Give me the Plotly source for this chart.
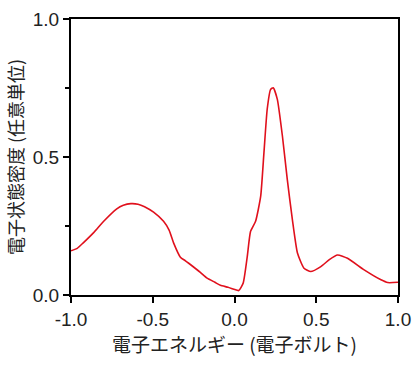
import plotly.graph_objects as go

energy = [-1.0, -0.96, -0.925, -0.86, -0.80, -0.72, -0.68, -0.634, -0.59, -0.55,
          -0.495, -0.434, -0.40, -0.372, -0.331, -0.30, -0.28, -0.209, -0.167, -0.12,
          -0.086, -0.04, -0.004, 0.026, 0.053, 0.078, 0.098, 0.129, 0.16, 0.18,
          0.20, 0.221, 0.237, 0.262, 0.293, 0.323, 0.354, 0.385, 0.425, 0.466,
          0.528, 0.58, 0.63, 0.691, 0.793, 0.896, 0.937, 1.0]
dos = [0.160, 0.170, 0.189, 0.227, 0.267, 0.312, 0.325, 0.331, 0.329, 0.320,
       0.300, 0.267, 0.235, 0.188, 0.137, 0.124, 0.115, 0.082, 0.061, 0.046,
       0.035, 0.028, 0.021, 0.016, 0.043, 0.139, 0.230, 0.267, 0.357, 0.515,
       0.673, 0.745, 0.751, 0.709, 0.576, 0.418, 0.273, 0.152, 0.097, 0.085,
       0.103, 0.128, 0.145, 0.133, 0.091, 0.055, 0.045, 0.046]

x_ticks = [-1.0, -0.5, 0.0, 0.5, 1.0]
x_ticktext = ["-1.0", "-0.5", "0.0", "0.5", "1.0"]
y_ticks = [0.0, 0.5, 1.0]
y_ticktext = ["0.0", "0.5", "1.0"]
y_minor = [0.25, 0.75]

x_title = "電子エネルギー (電子ボルト)"
y_title = "電子状態密度 (任意単位)"

font_fam = "Liberation Sans, Arial, Noto Sans CJK JP"

fig = go.Figure()
fig.add_trace(go.Scatter(x=energy, y=dos, mode="lines",
                         line=dict(color="#e0101c", width=1.6, shape="spline", smoothing=0.5),
                         showlegend=False))

fig.update_layout(
    width=420, height=368,
    margin=dict(l=71, r=22, t=19, b=73),
    paper_bgcolor="white", plot_bgcolor="white",
    font=dict(family=font_fam, color="#222222", size=18),
)
fig.update_xaxes(range=[-1.0, 1.0], tickvals=x_ticks, ticktext=x_ticktext,
                 showline=True, linecolor="black", linewidth=2, mirror=True,
                 ticks="outside", ticklen=6, tickwidth=2, tickcolor="black",
                 showgrid=False, zeroline=False, automargin=False,
                 title=dict(text=x_title, font=dict(size=19, family="Noto Sans CJK JP, Liberation Sans"), standoff=6),
                 tickfont=dict(size=19))
fig.update_yaxes(range=[0.0, 1.0], tickvals=y_ticks, ticktext=y_ticktext,
                 showline=True, linecolor="black", linewidth=2, mirror=True,
                 ticks="outside", ticklen=6, tickwidth=2, tickcolor="black",
                 minor=dict(tickvals=y_minor, ticks="outside", ticklen=4, tickwidth=2, tickcolor="black"),
                 showgrid=False, zeroline=False, automargin=False,
                 title=dict(text=y_title, font=dict(size=18, family="Noto Sans CJK JP, Liberation Sans"), standoff=4),
                 tickfont=dict(size=19))

fig.write_html("out.html", config={"displayModeBar": False},
               post_script="document.body.style.margin='0';document.body.style.overflow='hidden';")
